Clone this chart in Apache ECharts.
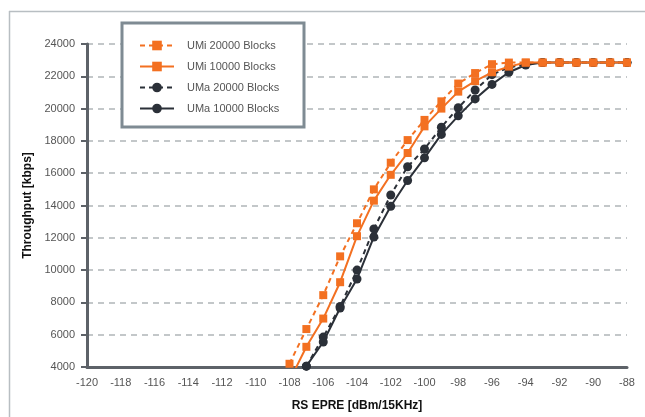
<!DOCTYPE html>
<html>
<head>
<meta charset="utf-8">
<script src="https://cdn.jsdelivr.net/npm/echarts@6/dist/echarts.min.js"></script>
<style>
html,body{margin:0;padding:0;background:#fff;}
#chart{width:645px;height:417px;}
</style>
</head>
<body>
<div id="chart"></div>
<script>
var xValues = [-108,-107,-106,-105,-104,-103,-102,-101,-100,-99,-98,-97,-96,-95,-94,-93,-92,-91,-90,-89,-88];
var umi20000 = [4200,6350,8450,10850,12900,15000,16650,18050,19300,20450,21550,22200,22750,22850,22850,22850,22850,22850,22850,22850,22850];
var umi10000 = [3150,5250,7000,9250,12100,14300,15900,17250,18900,20000,21050,21700,22250,22600,22850,22850,22850,22850,22850,22850,22850];
var uma20000 = [null,4050,5850,7750,10000,12550,14650,16400,17500,18850,20050,21150,22100,22550,22750,22850,22850,22850,22850,22850,22850];
var uma10000 = [null,4050,5550,7650,9450,12050,13950,15550,16950,18400,19550,20600,21500,22250,22700,22850,22850,22850,22850,22850,22850];
var seriesNames = ['UMi 20000 Blocks','UMi 10000 Blocks','UMa 20000 Blocks','UMa 10000 Blocks'];

function pairs(vals){
  return xValues.map(function(x,i){ return [x, vals[i]]; });
}

var ORANGE = '#f37021';
var DARK = '#2b3038';
var FONT = '"Liberation Sans", Arial, Helvetica, sans-serif';

var chart = echarts.init(document.getElementById('chart'), null, {renderer:'canvas'});
chart.setOption({
  animation:false,
  backgroundColor:'#fff',
  textStyle:{fontFamily:FONT},
  grid:{left:87, right:18, top:44, bottom:44, containLabel:false},
  xAxis:{
    type:'value', min:-120, max:-88, interval:2,
    name:'RS EPRE [dBm/15KHz]', nameLocation:'middle', nameGap:33,
    nameTextStyle:{fontFamily:FONT, fontWeight:'bold', fontSize:12, color:'#111'},
    axisLine:{show:true, onZero:false, lineStyle:{color:'#5d6268', width:3}},
    axisTick:{show:false},
    axisLabel:{color:'#555', fontSize:11, margin:10, fontFamily:FONT,
      formatter:function(v){ return String(v); }},
    splitLine:{show:false}
  },
  yAxis:{
    type:'value', min:4000, max:24000, interval:2000,
    name:'Throughput [kbps]', nameLocation:'middle', nameGap:44, nameRotate:90,
    nameTextStyle:{fontFamily:FONT, fontWeight:'bold', fontSize:12, color:'#111'},
    axisLine:{show:true, onZero:false, lineStyle:{color:'#5d6268', width:3}},
    axisTick:{show:true, inside:false, length:6, lineStyle:{color:'#5d6268', width:2}},
    axisLabel:{color:'#555', fontSize:11, margin:12, fontFamily:FONT,
      formatter:function(v){ return String(v); }},
    splitLine:{show:true, lineStyle:{color:'#b0b5b8', width:1.5, type:[6,5]}}
  },
  legend:{
    orient:'vertical', left:139, top:40, itemWidth:34, itemHeight:12, itemGap:10,
    data:seriesNames, z:20,
    textStyle:{color:'#555', fontSize:11, fontFamily:FONT, padding:[0,0,0,8]},
    padding:0
  },
  graphic:[
    {type:'rect', shape:{x:122, y:23, width:182, height:104}, style:{fill:'#fff', stroke:'#7f8b93', lineWidth:3}, z:10, silent:true},
    {type:'line', shape:{x1:9, y1:11.5, x2:645, y2:11.5}, style:{stroke:'#b8bec2', lineWidth:1.5}, silent:true},
    {type:'line', shape:{x1:9.5, y1:11, x2:9.5, y2:417}, style:{stroke:'#b8bec2', lineWidth:1.5}, silent:true}
  ],
  series:[
    {name:seriesNames[0], type:'line', data:pairs(umi20000), z:5, clip:true,
     symbol:'rect', symbolSize:8, itemStyle:{color:ORANGE},
     lineStyle:{color:ORANGE, width:2, type:[5,4]}},
    {name:seriesNames[1], type:'line', data:pairs(umi10000), z:4, clip:true,
     symbol:'rect', symbolSize:8, itemStyle:{color:ORANGE},
     lineStyle:{color:ORANGE, width:2, type:'solid'}},
    {name:seriesNames[2], type:'line', data:pairs(uma20000), z:3, clip:true,
     symbol:'circle', symbolSize:9, itemStyle:{color:DARK},
     lineStyle:{color:DARK, width:2, type:[5,4]}},
    {name:seriesNames[3], type:'line', data:pairs(uma10000), z:2, clip:true,
     symbol:'circle', symbolSize:9, itemStyle:{color:DARK},
     lineStyle:{color:DARK, width:2, type:'solid'}}
  ]
});
</script>
</body>
</html>
